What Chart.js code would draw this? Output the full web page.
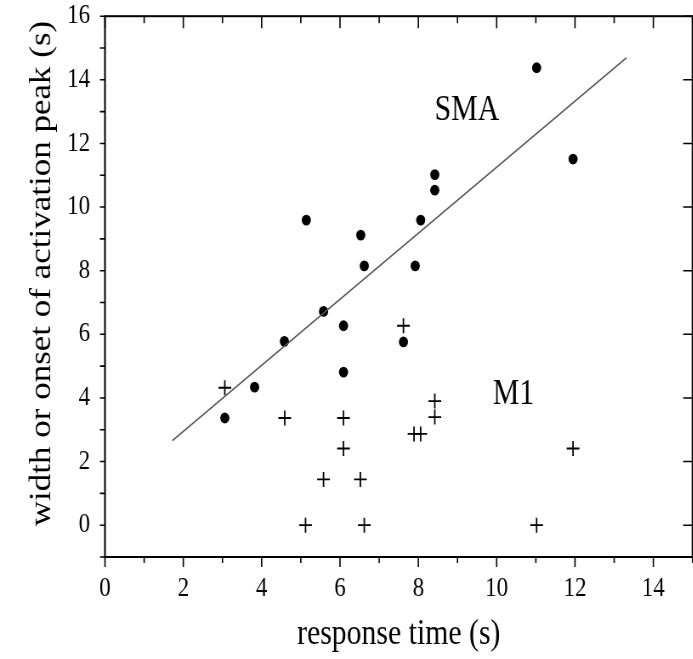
<!DOCTYPE html>
<html>
<head>
<meta charset="utf-8">
<script src="https://cdn.jsdelivr.net/npm/chart.js@4.4.1/dist/chart.umd.min.js"></script>
<style>
html, body { margin: 0; padding: 0; overflow: hidden; background: #fff; }
/* the original figure is squeezed sideways, so draw wider and squeeze */
#chart { display: block; transform: scaleX(0.85); transform-origin: 0 0; }
</style>
</head>
<body>
<canvas id="chart" width="824" height="659"></canvas>
<script>
// SMA: filled dots
const smaX = [3.06, 3.82, 4.58, 5.14, 5.58, 6.09, 6.09, 6.53, 6.62, 7.62, 7.92, 8.06, 8.42, 8.42, 11.02, 11.95]
const smaY = [3.37, 4.34, 5.78, 9.59, 6.72, 6.27, 4.81, 9.12, 8.15, 5.76, 8.15, 9.59, 11.02, 10.53, 14.38, 11.51]
// M1: crosses
const m1X = [3.06, 4.59, 6.09, 6.09, 5.58, 6.52, 5.12, 6.62, 7.62, 8.42, 8.42, 7.89, 8.06, 11.95, 11.02]
const m1Y = [4.32, 3.37, 3.37, 2.41, 1.44, 1.44, 0, 0, 6.27, 3.90, 3.40, 2.87, 2.87, 2.41, 0]
// regression line for SMA
const fitX = [1.72, 13.31]
const fitY = [2.66, 14.69]

const xTicks = [0, 2, 4, 6, 8, 10, 12, 14]
const yTicks = [0, 2, 4, 6, 8, 10, 12, 14, 16]

const regionNames = ['SMA', 'M1']
const regionX = [9.24, 10.43]
const regionY = [13.04, 4.11]

const serif = "'Liberation Serif', 'Times New Roman', serif"

const toPoints = (xs, ys) => xs.map((x, i) => ({ x: x, y: ys[i] }))

// frame, inward/outward tick marks and the region names
const framePlugin = {
    id: 'frame',
    afterDraw(chart) {
        const ctx = chart.ctx
        const area = chart.chartArea
        const xs = chart.scales.x
        const ys = chart.scales.y
        ctx.save()
        ctx.strokeStyle = '#000'
        ctx.lineWidth = 2
        ctx.strokeRect(area.left, area.top, area.right - area.left, area.bottom - area.top)

        ctx.lineWidth = 1.6
        ctx.beginPath()
        for (let v = Math.ceil(xs.min); v <= xs.max; v++) {
            const px = xs.getPixelForValue(v)
            const major = v % 2 === 0
            ctx.moveTo(px, area.bottom)
            ctx.lineTo(px, area.bottom + (major ? 10 : 6))
            ctx.moveTo(px, area.top)
            ctx.lineTo(px, area.top + (major ? 12 : 7))
        }
        for (let v = Math.ceil(ys.min); v <= ys.max; v++) {
            const py = ys.getPixelForValue(v)
            ctx.moveTo(area.left - 6, py)
            ctx.lineTo(area.left, py)
            if (v % 2 === 0) {
                ctx.moveTo(area.right, py)
                ctx.lineTo(area.right - 11, py)
            }
        }
        ctx.stroke()

        ctx.fillStyle = '#000'
        ctx.font = '35px ' + serif
        ctx.textAlign = 'center'
        ctx.textBaseline = 'middle'
        regionNames.forEach((name, i) => {
            ctx.fillText(name, xs.getPixelForValue(regionX[i]), ys.getPixelForValue(regionY[i]))
        })
        ctx.restore()
    }
}

new Chart(document.getElementById('chart'), {
    type: 'scatter',
    data: {
        datasets: [
            {
                label: 'fit',
                data: toPoints(fitX, fitY),
                showLine: true,
                borderColor: '#555',
                borderWidth: 1.6,
                pointRadius: 0
            },
            {
                label: 'SMA',
                data: toPoints(smaX, smaY),
                pointStyle: 'circle',
                pointRadius: 5.4,
                backgroundColor: '#000',
                borderColor: '#000',
                borderWidth: 0
            },
            {
                label: 'M1',
                data: toPoints(m1X, m1Y),
                pointStyle: 'cross',
                pointRadius: 7.5,
                borderColor: '#000',
                borderWidth: 1.8
            }
        ]
    },
    options: {
        responsive: false,
        animation: false,
        events: [],
        layout: { padding: 0 },
        plugins: {
            legend: { display: false },
            tooltip: { enabled: false }
        },
        scales: {
            x: {
                type: 'linear',
                min: 0,
                max: 15,
                afterBuildTicks: s => { s.ticks = xTicks.map(v => ({ value: v })) },
                afterFit: s => { s.height = 102 },
                // tick marks come from the plugin, tickLength only spaces the labels
                grid: { display: false, drawTicks: true, tickLength: 16 },
                border: { display: false },
                ticks: {
                    padding: 0,
                    color: '#000',
                    maxRotation: 0,
                    font: { family: serif, size: 27 }
                },
                title: {
                    display: true,
                    text: 'response time (s)',
                    color: '#000',
                    padding: { top: 0, bottom: 3 },
                    font: { family: serif, size: 35 }
                }
            },
            y: {
                type: 'linear',
                min: -1,
                max: 16,
                afterBuildTicks: s => { s.ticks = yTicks.map(v => ({ value: v })) },
                afterFit: s => { s.width = 123.5 },
                grid: { display: false, drawTicks: true, tickLength: 17.5 },
                border: { display: false },
                ticks: {
                    padding: 0,
                    color: '#000',
                    font: { family: serif, size: 27 }
                },
                title: {
                    display: true,
                    text: '   width or onset of activation peak (s)',
                    color: '#000',
                    padding: { top: 29, bottom: 0 },
                    font: { family: serif, size: 35 }
                }
            }
        }
    },
    plugins: [framePlugin]
})
</script>
</body>
</html>
